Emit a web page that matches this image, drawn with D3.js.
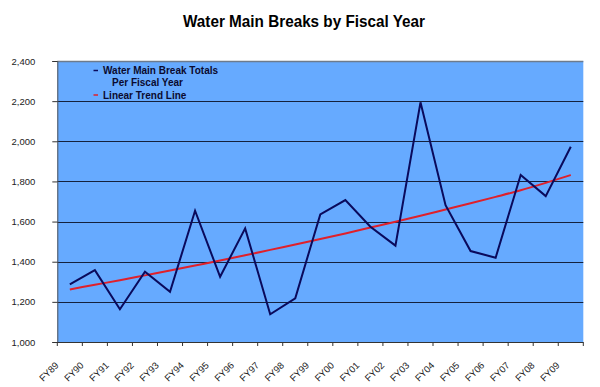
<!DOCTYPE html>
<html>
<head>
<meta charset="utf-8">
<script src="https://cdn.jsdelivr.net/npm/d3@7"></script>
<style>
  html, body { margin: 0; padding: 0; background: #ffffff; }
  svg { display: block; font-family: "Liberation Sans", Arial, sans-serif; }
</style>
</head>
<body>
<svg id="chart" width="600" height="387"></svg>
<script>
// ---- data ----
const categories = ["FY89","FY90","FY91","FY92","FY93","FY94","FY95","FY96","FY97","FY98","FY99",
                    "FY00","FY01","FY02","FY03","FY04","FY05","FY06","FY07","FY08","FY09"];
const breaks = [1287, 1358, 1163, 1350, 1250, 1654, 1325, 1566, 1138, 1218, 1636,
                1707, 1574, 1480, 2194, 1682, 1453, 1420, 1832, 1727, 1973];
const trend = [1262, 1285, 1308, 1332, 1356, 1381, 1406, 1432, 1459, 1486, 1513,
               1541, 1570, 1599, 1629, 1660, 1691, 1723, 1756, 1793, 1832];
const yTicks = [1000, 1200, 1400, 1600, 1800, 2000, 2200, 2400];
const title = "Water Main Breaks by Fiscal Year";
const legendLabels = ["Water Main Break Totals", "Per Fiscal Year", "Linear Trend Line"];

// ---- layout ----
const svg = d3.select("#chart");
const L = 57.3, R = 583.3, T = 61, B = 342;

const x = d3.scaleBand().domain(categories).range([L, R]).padding(0);
const y = d3.scaleLinear().domain([1000, 2400]).range([B, T]);
const cx = d => x(d) + x.bandwidth() / 2;

// title
svg.append("text")
  .attr("x", 304).attr("y", 27)
  .attr("text-anchor", "middle")
  .attr("font-size", 17).attr("font-weight", "bold")
  .attr("textLength", 242).attr("lengthAdjust", "spacingAndGlyphs")
  .attr("fill", "#000")
  .text(title);

// plot background
svg.append("rect")
  .attr("x", L).attr("y", T).attr("width", R - L).attr("height", B - T)
  .attr("fill", "#66aaff");

// gridlines
svg.append("g").selectAll("line")
  .data(yTicks.filter(v => v > 1000 && v < 2400))
  .join("line")
  .attr("x1", L).attr("x2", R)
  .attr("y1", d => Math.round(y(d)) + 0.5).attr("y2", d => Math.round(y(d)) + 0.5)
  .attr("stroke", "#14213d").attr("stroke-width", 1);

// plot border (top gray)
svg.append("path")
  .attr("d", `M${L},${T + 0.5}H${R}`)
  .attr("stroke", "#6d7b8d").attr("stroke-width", 1.5).attr("fill", "none");

// y axis
const yAxis = d3.axisLeft(y).tickValues(yTicks).tickSize(5).tickPadding(17)
  .tickFormat(d3.format(","));
const gy = svg.append("g").attr("transform", `translate(${L},0)`).call(yAxis);
gy.select(".domain").attr("stroke", "#555").attr("stroke-width", 1);
gy.selectAll(".tick line").attr("stroke", "#333");
gy.selectAll(".tick text").attr("font-size", 9.5).attr("fill", "#222")
  .attr("font-family", "Liberation Sans, Arial, sans-serif");

// x axis: ticks at band boundaries
const gx = svg.append("g").attr("transform", `translate(0,${B})`);
gx.append("line").attr("x1", L).attr("x2", R).attr("y1", 0.5).attr("y2", 0.5)
  .attr("stroke", "#333");
const bounds = categories.map(c => x(c)).concat([R]);
gx.selectAll("line.tk").data(bounds).join("line")
  .attr("class", "tk")
  .attr("x1", d => d).attr("x2", d => d).attr("y1", 0).attr("y2", 4)
  .attr("stroke", "#333");
gx.selectAll("text").data(categories).join("text")
  .attr("transform", d => `translate(${x(d) + 2},${24}) rotate(-45)`)
  .attr("text-anchor", "end")
  .attr("font-size", 9.5).attr("fill", "#222")
  .text(d => d);

// trend line
svg.append("path")
  .datum(trend)
  .attr("fill", "none").attr("stroke", "#e0202a").attr("stroke-width", 2)
  .attr("d", d3.line().x((d, i) => cx(categories[i])).y(d => y(d)).curve(d3.curveMonotoneX));

// data line
svg.append("path")
  .datum(breaks)
  .attr("fill", "none").attr("stroke", "#0a0a5c").attr("stroke-width", 2)
  .attr("stroke-linejoin", "miter")
  .attr("d", d3.line().x((d, i) => cx(categories[i])).y(d => y(d)));

// legend
const lg = svg.append("g").attr("font-size", 10).attr("font-weight", "bold").attr("fill", "#0b0b30");
lg.append("line").attr("x1", 93.5).attr("x2", 98).attr("y1", 70.5).attr("y2", 70.5)
  .attr("stroke", "#0a0a5c").attr("stroke-width", 1.5);
lg.append("text").attr("x", 103).attr("y", 74).text(legendLabels[0]);
lg.append("text").attr("x", 112).attr("y", 86).text(legendLabels[1]);
lg.append("line").attr("x1", 93.5).attr("x2", 98).attr("y1", 95).attr("y2", 95)
  .attr("stroke", "#e0202a").attr("stroke-width", 1.5);
lg.append("text").attr("x", 103).attr("y", 98.5).text(legendLabels[2]);
</script>
</body>
</html>
